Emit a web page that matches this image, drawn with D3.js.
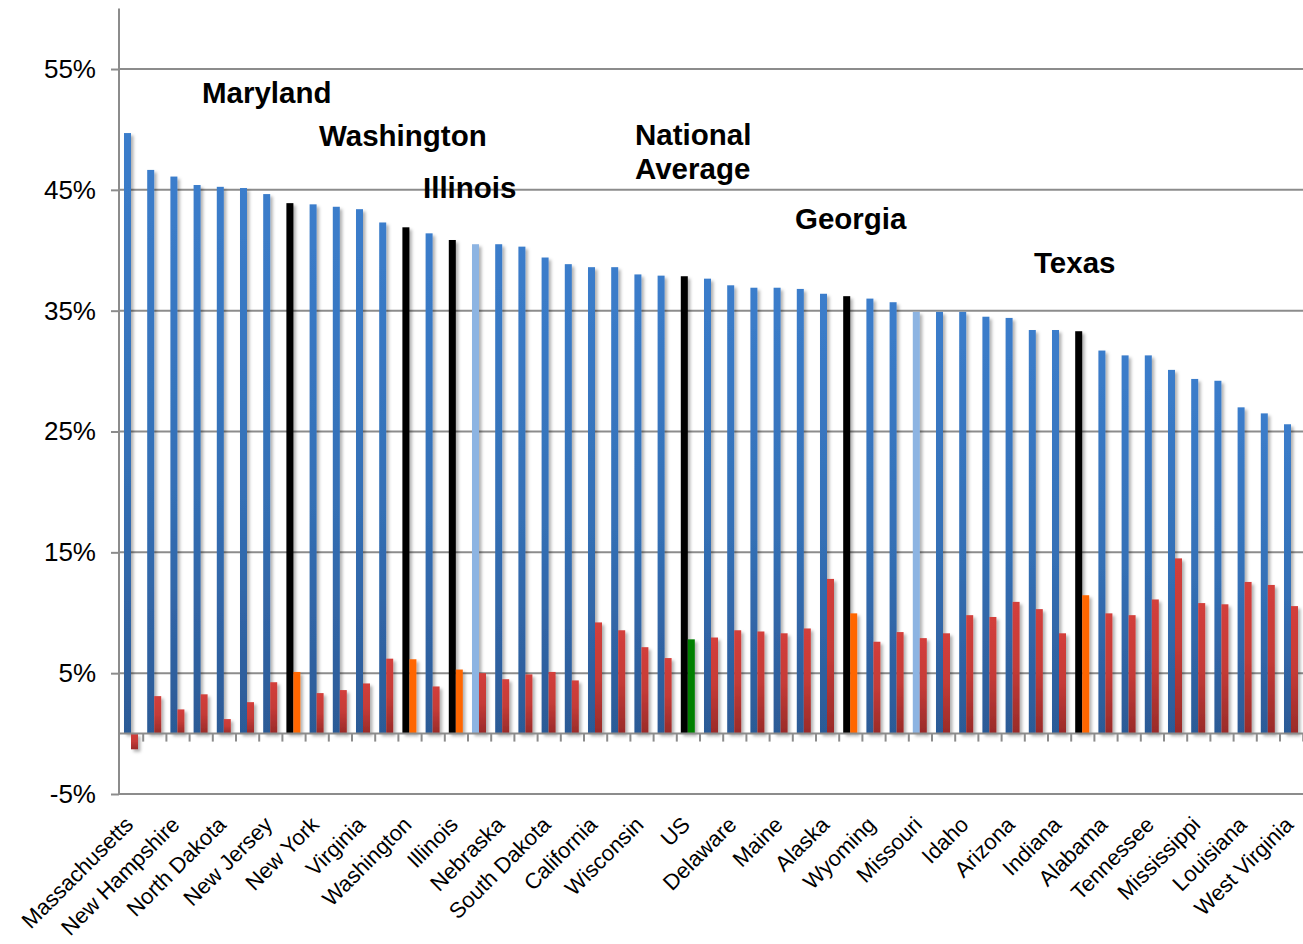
<!DOCTYPE html>
<html>
<head>
<meta charset="utf-8">
<script src="https://cdn.jsdelivr.net/npm/d3@7"></script>
<style>
  body { margin: 0; background: #fff; }
  text { font-family: Arial, "Liberation Sans", sans-serif; }
</style>
</head>
<body>
<div id="chart"></div>
<script>

// Set dimensions and margins for plot
const width = 1303;
const height = 944;
const margin = {left: 120, right: 0, top: 8, bottom: 150};

// Categories (only every other one gets a label on the axis)
const states = [
  "Massachusetts", "Colorado", "New Hampshire", "Connecticut", "North Dakota",
  "Minnesota", "New Jersey", "Maryland", "New York", "Vermont",
  "Virginia", "Rhode Island", "Washington", "Utah", "Illinois",
  "Kansas", "Nebraska", "Montana", "South Dakota", "Hawaii",
  "California", "Iowa", "Wisconsin", "Oregon", "US",
  "Pennsylvania", "Delaware", "Michigan", "Maine", "New Mexico",
  "Alaska", "Georgia", "Wyoming", "Ohio", "Missouri",
  "North Carolina", "Idaho", "Florida", "Arizona", "South Carolina",
  "Indiana", "Texas", "Alabama", "Kentucky", "Tennessee",
  "Oklahoma", "Mississippi", "Nevada", "Louisiana", "Arkansas",
  "West Virginia"
];

// first series (blue bars), percent
const blueValues = [
  49.7, 46.65, 46.1, 45.4, 45.25, 45.15, 44.65, 43.9, 43.8, 43.6,
  43.4, 42.3, 41.9, 41.4, 40.85, 40.5, 40.5, 40.3, 39.4, 38.85,
  38.6, 38.6, 38.0, 37.9, 37.85, 37.65, 37.1, 36.9, 36.9, 36.8,
  36.4, 36.2, 36.0, 35.7, 34.9, 34.9, 34.9, 34.5, 34.4, 33.4,
  33.4, 33.3, 31.7, 31.3, 31.3, 30.1, 29.35, 29.2, 27.0, 26.5,
  25.6
];

// second series (red bars), percent
const redValues = [
  -1.3, 3.1, 2.0, 3.25, 1.2, 2.6, 4.25, 5.1, 3.35, 3.6,
  4.15, 6.2, 6.15, 3.9, 5.3, 5.0, 4.5, 4.9, 5.1, 4.4,
  9.2, 8.55, 7.15, 6.25, 7.8, 7.95, 8.55, 8.45, 8.3, 8.7,
  12.8, 9.95, 7.6, 8.4, 7.9, 8.3, 9.8, 9.65, 10.9, 10.3,
  8.3, 11.45, 9.95, 9.8, 11.1, 14.5, 10.8, 10.7, 12.55, 12.3,
  10.55
];

// y axis tick values
const yTicks = [-5, 5, 15, 25, 35, 45, 55];

// highlighted categories
const highlighted = ["Maryland", "Washington", "Illinois", "US", "Georgia", "Texas"];
const lightHighlighted = ["Kansas", "Missouri"];

// annotation labels: [text lines, left x, first baseline y]
const notes = [
  [["Maryland"], 202, 103],
  [["Washington"], 319, 146],
  [["Illinois"], 423, 198],
  [["National", "Average"], 635, 145],
  [["Georgia"], 795, 229],
  [["Texas"], 1034, 273]
];

const data = states.map((s, i) => ({name: s, i: i, blue: blueValues[i], red: redValues[i]}));

const svg = d3.select("#chart")
  .append("svg")
  .attr("width", width)
  .attr("height", height);

const defs = svg.append("defs");

// blue and red gradients like the spreadsheet look
const gBlue = defs.append("linearGradient").attr("id", "gBlue")
  .attr("x1", 0).attr("y1", 0).attr("x2", 0).attr("y2", 1);
gBlue.append("stop").attr("offset", "0%").attr("stop-color", "#3b7dcb");
gBlue.append("stop").attr("offset", "55%").attr("stop-color", "#3470b6");
gBlue.append("stop").attr("offset", "100%").attr("stop-color", "#2c5a96");

const gRed = defs.append("linearGradient").attr("id", "gRed")
  .attr("x1", 0).attr("y1", 0).attr("x2", 0).attr("y2", 1);
gRed.append("stop").attr("offset", "0%").attr("stop-color", "#d33f3b");
gRed.append("stop").attr("offset", "50%").attr("stop-color", "#c53b37");
gRed.append("stop").attr("offset", "100%").attr("stop-color", "#992b29");

// soft shadow behind bars
const shadow = defs.append("filter").attr("id", "shadow")
  .attr("x", "-50%").attr("y", "-10%").attr("width", "250%").attr("height", "130%");
shadow.append("feDropShadow")
  .attr("dx", 2.5).attr("dy", 2.5)
  .attr("stdDeviation", 1.8)
  .attr("flood-color", "#000")
  .attr("flood-opacity", 0.3);

// scales
const yScale = d3.scaleLinear()
  .domain([-5, 60])
  .range([794, 794 - 65 * 12.083]);

const xScale = d3.scaleBand()
  .domain(d3.range(states.length))
  .range([margin.left, margin.left + 23.2 * states.length])
  .padding(0);

const xSub = d3.scaleBand()
  .domain(["blue", "red"])
  .range([4, 18])
  .padding(0);

// gridlines
svg.append("g")
  .selectAll("line")
  .data(yTicks)
  .enter()
  .append("line")
    .attr("x1", margin.left - 1)
    .attr("x2", width)
    .attr("y1", d => yScale(d))
    .attr("y2", d => yScale(d))
    .attr("stroke", "#8c8c8c")
    .attr("stroke-width", 2);

// y axis with percent labels
const yAxis = svg.append("g")
  .attr("transform", `translate(${margin.left - 1}, 0)`)
  .call(d3.axisLeft(yScale)
          .tickValues(yTicks)
          .tickSize(8)
          .tickPadding(15)
          .tickFormat(d => d + "%"));
yAxis.select(".domain")
  .attr("d", `M0,${yScale(60)}V${yScale(-5)}`)
  .attr("stroke", "#8c8c8c")
  .attr("stroke-width", 2);
yAxis.selectAll(".tick line").attr("stroke", "#8c8c8c").attr("stroke-width", 2);
yAxis.selectAll(".tick text")
  .attr("font-size", "26px")
  .attr("fill", "#000")
  .attr("font-family", "Arial, 'Liberation Sans', sans-serif");

// bars (blue series)
const blueFill = d => highlighted.includes(d.name) ? "#000"
  : lightHighlighted.includes(d.name) ? "#8db4e2" : "url(#gBlue)";
const redFill = d => d.name === "US" ? "#008000"
  : highlighted.includes(d.name) ? "#ff6600" : "url(#gRed)";

svg.append("g")
  .attr("filter", "url(#shadow)")
  .selectAll(".bar-blue")
  .data(data)
  .enter()
  .append("rect")
    .attr("class", "bar-blue")
    .attr("x", d => xScale(d.i) + xSub("blue"))
    .attr("y", d => yScale(Math.max(0, d.blue)))
    .attr("width", xSub.bandwidth())
    .attr("height", d => Math.abs(yScale(d.blue) - yScale(0)))
    .attr("fill", blueFill);

// bars (red series)
svg.append("g")
  .attr("filter", "url(#shadow)")
  .selectAll(".bar-red")
  .data(data)
  .enter()
  .append("rect")
    .attr("class", "bar-red")
    .attr("x", d => xScale(d.i) + xSub("red"))
    .attr("y", d => yScale(Math.max(0, d.red)))
    .attr("width", xSub.bandwidth())
    .attr("height", d => Math.abs(yScale(d.red) - yScale(0)))
    .attr("fill", redFill);

// zero line with category ticks
const zero = yScale(0);
svg.append("line")
  .attr("x1", margin.left - 1).attr("x2", width)
  .attr("y1", zero).attr("y2", zero)
  .attr("stroke", "#8c8c8c").attr("stroke-width", 2);

svg.append("g")
  .selectAll("line")
  .data(d3.range(1, states.length + 1))
  .enter()
  .append("line")
    .attr("x1", d => xScale.step() * d + margin.left)
    .attr("x2", d => xScale.step() * d + margin.left)
    .attr("y1", zero)
    .attr("y2", zero + 8)
    .attr("stroke", "#8c8c8c")
    .attr("stroke-width", 2);

// category labels, every other one, rotated
svg.append("g")
  .selectAll("text")
  .data(data.filter(d => d.i % 2 === 0))
  .enter()
  .append("text")
    .attr("transform", d => `translate(${xScale(d.i) + xScale.bandwidth() / 2 + 3}, 826) rotate(-45)`)
    .attr("text-anchor", "end")
    .attr("font-size", "22px")
    .attr("fill", "#000")
    .text(d => d.name);

// bold annotations
notes.forEach(n => {
  const t = svg.append("text")
    .attr("x", n[1])
    .attr("y", n[2])
    .attr("font-size", "29.5px")
    .attr("font-weight", "bold")
    .attr("fill", "#000");
  n[0].forEach((line, k) => {
    t.append("tspan").attr("x", n[1]).attr("dy", k === 0 ? 0 : 34).text(line);
  });
});

</script>
</body>
</html>
